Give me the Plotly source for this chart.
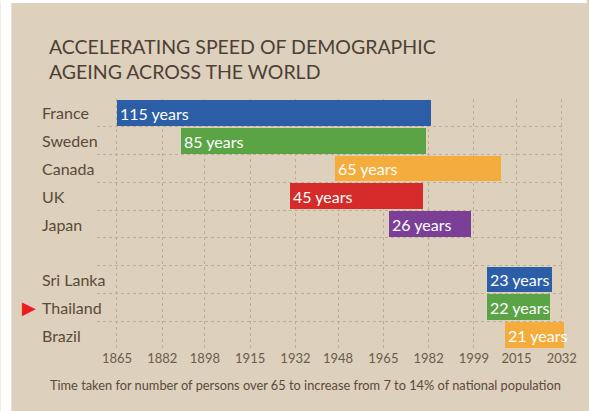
import plotly.graph_objects as go

countries = ["France", "Sweden", "Canada", "UK", "Japan", "Sri Lanka", "Thailand", "Brazil"]
start_year = [1865, 1889, 1947, 1930, 1967, 2004, 2004, 2010.5]
end_year = [1983, 1981, 2009, 1980, 1998, 2028.5, 2027.5, 2033]
duration_labels = [115, 85, 65, 45, 26, 23, 22, 21]
bar_colors = ["#2b5ea7", "#5ba446", "#f4ad3d", "#d52b2a", "#7b3f98",
              "#2b5ea7", "#5ba446", "#f4ad3d"]
row_order = ["France", "Sweden", "Canada", "UK", "Japan", " ", "Sri Lanka", "Thailand", "Brazil"]
x_ticks = [1865, 1882, 1898, 1915, 1932, 1948, 1965, 1982, 1999, 2015, 2032]
highlight = "Thailand"

title_text = "ACCELERATING SPEED OF DEMOGRAPHIC<br>AGEING ACROSS THE WORLD"
footnote = "Time taken for number of persons over 65 to increase from 7 to 14% of national population"

BG = "#ddd0bc"
GRID = "#bfae97"
TXT = "#5a4a3b"
FONT = "Lato"

W, H = 589, 411
L, R, T, B = 97, 22, 99, 62
pw, ph = W - L - R, H - T - B


def px_x(p):
    return (p - L) / pw


def px_y(p):
    return (H - B - p) / ph


fig = go.Figure()
fig.add_trace(go.Bar(
    y=countries,
    x=[e - s for s, e in zip(start_year, end_year)],
    base=start_year,
    orientation="h",
    width=0.93,
    marker=dict(color=bar_colors, line=dict(width=0)),
    text=[f"{d} years" for d in duration_labels],
    textposition="inside",
    insidetextanchor="start",
    constraintext="none",
    textangle=0,
    textfont=dict(family=FONT, size=16, color="white"),
    hoverinfo="skip",
    cliponaxis=False,
))

annotations = [dict(
    text=title_text, xref="paper", yref="paper", x=px_x(47), y=px_y(59),
    xanchor="left", yanchor="middle", showarrow=False, align="left",
    font=dict(family=FONT, size=19.5, color="#4c4036"),
)]
for c in countries:
    annotations.append(dict(
        text=c, xref="paper", yref="y", x=px_x(40), y=c,
        xanchor="left", yanchor="middle", showarrow=False,
        font=dict(family=FONT, size=16, color=TXT),
    ))
annotations.append(dict(
    text="▶", xref="paper", yref="y", x=px_x(38), y=highlight,
    xanchor="right", yanchor="middle", showarrow=False,
    font=dict(family="DejaVu Sans", size=18, color="#ee1c1c"),
))
annotations.append(dict(
    text=footnote, xref="paper", yref="paper", x=px_x(306), y=px_y(385),
    xanchor="center", yanchor="middle", showarrow=False,
    font=dict(family=FONT, size=12.8, color=TXT),
))

fig.update_layout(
    width=W, height=H,
    margin=dict(l=L, r=R, t=T, b=B, pad=0),
    paper_bgcolor=BG, plot_bgcolor=BG,
    showlegend=False,
    bargap=0,
    annotations=annotations,
    shapes=[
        dict(type="rect", xref="paper", yref="paper", x0=px_x(0), x1=px_x(11),
             y0=px_y(H), y1=px_y(0), fillcolor="white", line=dict(width=0), layer="below"),
        dict(type="rect", xref="paper", yref="paper", x0=px_x(0), x1=px_x(W),
             y0=px_y(3), y1=px_y(0), fillcolor="white", line=dict(width=0), layer="below"),
    ],
    xaxis=dict(
        range=[1857.5, 2033.2], tickvals=x_ticks, ticktext=[str(v) for v in x_ticks],
        showgrid=True, gridcolor=GRID, griddash="dot", gridwidth=1,
        zeroline=False, showline=False, ticks="",
        tickfont=dict(family=FONT, size=13, color="#6b5c4c"),
    ),
    yaxis=dict(
        type="category", categoryorder="array", categoryarray=row_order,
        autorange="reversed", range=[8.5, -0.5],
        tickson="boundaries", showgrid=True, gridcolor=GRID, griddash="dot", gridwidth=1,
        showticklabels=False, ticks="", zeroline=False, showline=False,
    ),
)

fig.write_html(
    "out.html",
    config={"displayModeBar": False},
    post_script=("document.body.style.margin='0px';"
                 "document.body.style.overflow='hidden';"
                 "document.documentElement.style.overflow='hidden';"
                 "document.body.style.background='" + BG + "';"
                 "document.documentElement.style.background='" + BG + "';"),
)
